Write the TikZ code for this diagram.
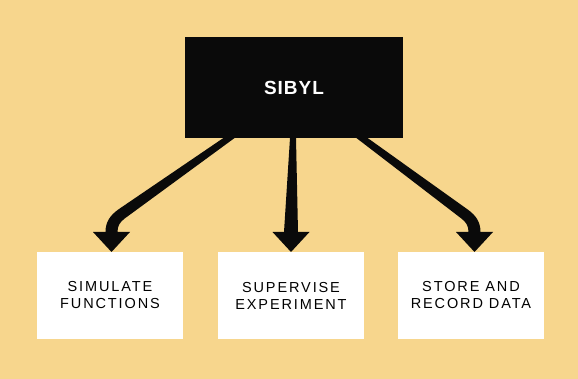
\documentclass[tikz,border=0pt]{standalone}
\usepackage{fontspec}
\newfontfamily\boxfont{Liberation Sans}[LetterSpace=13]
\newfontfamily\titlefont{Liberation Sans}[LetterSpace=5]
\usetikzlibrary{positioning,calc}
\definecolor{paper}{RGB}{247,214,141}
\definecolor{ink}{RGB}{10,10,10}

\begin{document}
\begin{tikzpicture}[x=1pt, y=1pt, line join=round,
    unit/.style={fill=white, inner sep=0pt, outer sep=0pt, minimum width=146pt,
      minimum height=87pt, align=center, font=\boxfont\fontsize{14.5}{17}\selectfont},
    core/.style={fill=ink, text=white, inner sep=0pt, outer sep=0pt, minimum width=218pt,
      minimum height=101pt, font=\titlefont\bfseries\fontsize{19}{22}\selectfont}]
  \fill[paper] (0,0) rectangle (578,379);

  \node[core] (sibyl) at (294,291.5) {SIBYL};
  \node[unit] (supervise) at (291,83.5) {SUPERVISE\\EXPERIMENT};
  \node[unit, left=35pt of supervise] (simulate) {SIMULATE\\FUNCTIONS};
  \node[unit, right=34pt of supervise] (store) {STORE AND\\RECORD DATA};

  \coordinate (out1) at ($(sibyl.south)+(-65,0)$);
  \coordinate (out2) at ($(sibyl.south)+(-1,0)$);
  \coordinate (out3) at ($(sibyl.south)+(68,0)$);

  % fat arrows: straight and thin at the top, a short bend into a wide head
  \fill[ink] ($(out1)+(-5.6,0)$) -- ($(simulate.north)+(8.3,42.5)$)
    to[out=-144,in=90] ($(simulate.north)+(-4.5,20)$)
    -- ($(simulate.north)+(-17,20)$) -- ($(simulate.north)+(1.5,0)$) -- ($(simulate.north)+(20,20)$)
    -- ($(simulate.north)+(7.5,20)$) to[out=90,in=-144] ($(simulate.north)+(14.7,33.5)$)
    -- ($(out1)+(5.6,0)$) -- cycle;
  \fill[ink] ($(out2)+(-3,0)$) -- ($(supervise.north)+(-7,20)$)
    -- ($(supervise.north)+(-18.5,20)$) -- (supervise.north) -- ($(supervise.north)+(18.5,20)$)
    -- ($(supervise.north)+(7,20)$) -- ($(out2)+(3,0)$) -- cycle;
  \fill[ink] ($(out3)+(-5.6,0)$) -- ($(store.north)+(-9.8,33.6)$)
    to[out=-36,in=90] ($(store.north)+(-2.5,20)$)
    -- ($(store.north)+(-15,20)$) -- ($(store.north)+(3.5,0)$) -- ($(store.north)+(22,20)$)
    -- ($(store.north)+(9.5,20)$) to[out=90,in=-36] ($(store.north)+(-3.2,42.4)$)
    -- ($(out3)+(5.6,0)$) -- cycle;
\end{tikzpicture}
\end{document}
